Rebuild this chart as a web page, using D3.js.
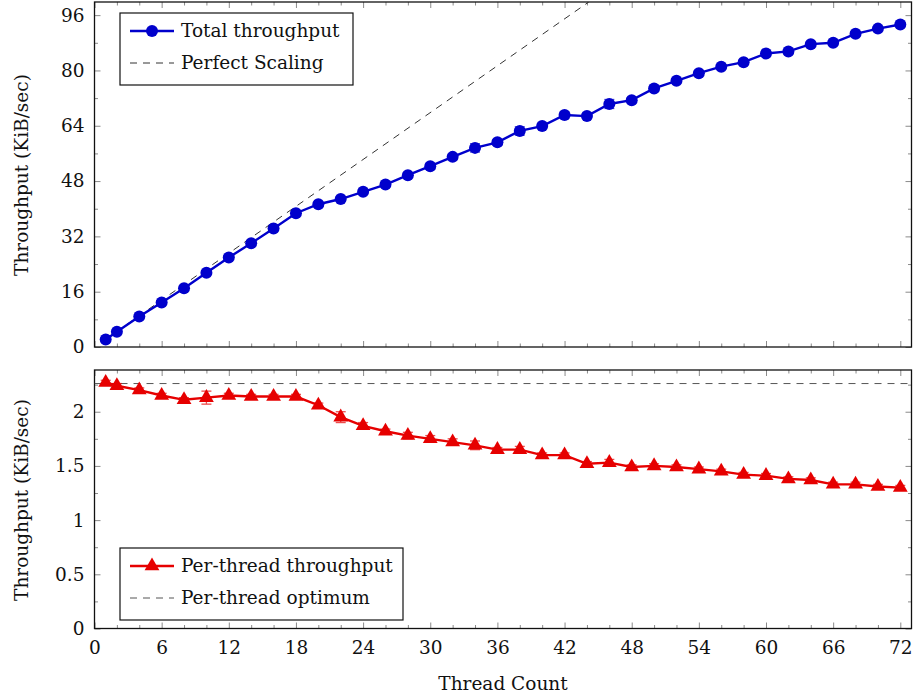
<!DOCTYPE html>
<html>
<head>
<meta charset="utf-8">
<script src="https://cdn.jsdelivr.net/npm/d3@7"></script>
<style>
  body { margin: 0; background: #fff; }
  svg { display: block; }
  svg text { font-family: "DejaVu Serif", "Liberation Serif", serif; }
  .tick line { stroke: #8a8a8a; stroke-width: 1; }
  .tick text { font-size: 18.5px; fill: #111; }
</style>
</head>
<body>
<div id="main"></div>
<script>
// thread counts
var threads = [1, 2, 4, 6, 8, 10, 12, 14, 16, 18, 20, 22, 24, 26, 28, 30, 32, 34, 36,
  38, 40, 42, 44, 46, 48, 50, 52, 54, 56, 58, 60, 62, 64, 66, 68, 70, 72];

// total throughput (KiB/sec) and its error
var total = [2.2, 4.4, 8.8, 12.9, 17.0, 21.5, 25.9, 30.0, 34.3, 38.7, 41.3, 42.8, 44.9,
  47.0, 49.7, 52.3, 55.0, 57.6, 59.2, 62.5, 63.9, 67.1, 66.8, 70.3, 71.4, 74.8, 77.0,
  79.2, 81.1, 82.4, 84.9, 85.5, 87.6, 88.0, 90.6, 92.1, 93.3];
var totalErr = [0.3, 0.3, 0.4, 0.4, 0.4, 0.5, 0.5, 0.5, 0.5, 0.5, 0.5, 0.5, 0.6,
  0.6, 0.6, 0.8, 0.8, 1.2, 0.8, 1.2, 0.8, 0.9, 0.8, 1.3, 0.7, 0.7, 0.6,
  0.6, 0.6, 0.6, 0.6, 0.6, 0.6, 0.6, 0.6, 0.6, 0.6];

// per-thread throughput (KiB/sec) and its error
var perThread = [2.27, 2.24, 2.2, 2.15, 2.11, 2.13, 2.15, 2.14, 2.14, 2.14, 2.06, 1.95, 1.87,
  1.82, 1.78, 1.75, 1.72, 1.69, 1.65, 1.65, 1.6, 1.6, 1.52, 1.53, 1.49, 1.5, 1.49,
  1.47, 1.45, 1.42, 1.41, 1.38, 1.37, 1.33, 1.33, 1.31, 1.3];
var perThreadErr = [0.02, 0.02, 0.02, 0.02, 0.02, 0.06, 0.02, 0.02, 0.02, 0.02, 0.02, 0.05, 0.03,
  0.02, 0.03, 0.03, 0.03, 0.04, 0.02, 0.03, 0.02, 0.02, 0.02, 0.03, 0.02, 0.02, 0.02,
  0.02, 0.02, 0.02, 0.02, 0.02, 0.02, 0.02, 0.02, 0.02, 0.02];

var optimum = 2.26;
var perfectX = [1, 73];

var xTicks = [0, 6, 12, 18, 24, 30, 36, 42, 48, 54, 60, 66, 72];
var topTicks = [0, 16, 32, 48, 64, 80, 96];
var botTicks = [0, 0.5, 1, 1.5, 2];

var blue = '#0000cc';
var red = '#e60000';

var width = 913, height = 696;
var left = 94.5, right = 911.5;
var fs = 18.5;

var svg = d3.select('#main').append('svg').attr('width', width).attr('height', height);

var x = d3.scaleLinear().domain([0, 73]).range([left, right]);
var yTop = d3.scaleLinear().domain([0, 99.8]).range([347, 2]);
var yBot = d3.scaleLinear().domain([0, 2.385]).range([628.5, 370]);

var xMinor = d3.range(0, 73, 2).filter(function (d) { return d % 6 !== 0; });

function drawFrame(y, majors, minors, fmt, showX) {
  var g = svg.append('g');
  var y0 = y.range()[0], y1 = y.range()[1];

  // bottom + top ticks
  g.append('g').attr('transform', 'translate(0,' + y0 + ')')
    .call(d3.axisBottom(x).tickValues(xTicks).tickSize(-6).tickPadding(12)
      .tickFormat(showX ? d3.format('d') : ''));
  g.append('g').attr('transform', 'translate(0,' + y0 + ')')
    .call(d3.axisBottom(x).tickValues(xMinor).tickSize(-3.5).tickFormat(''));
  g.append('g').attr('transform', 'translate(0,' + y1 + ')')
    .call(d3.axisTop(x).tickValues(xTicks).tickSize(-6).tickFormat(''));
  g.append('g').attr('transform', 'translate(0,' + y1 + ')')
    .call(d3.axisTop(x).tickValues(xMinor).tickSize(-3.5).tickFormat(''));

  // left + right ticks
  g.append('g').attr('transform', 'translate(' + left + ',0)')
    .call(d3.axisLeft(y).tickValues(majors).tickSize(-6).tickPadding(10).tickFormat(fmt));
  g.append('g').attr('transform', 'translate(' + left + ',0)')
    .call(d3.axisLeft(y).tickValues(minors).tickSize(-3.5).tickFormat(''));
  g.append('g').attr('transform', 'translate(' + right + ',0)')
    .call(d3.axisRight(y).tickValues(majors).tickSize(-6).tickFormat(''));
  g.append('g').attr('transform', 'translate(' + right + ',0)')
    .call(d3.axisRight(y).tickValues(minors).tickSize(-3.5).tickFormat(''));

  g.selectAll('.domain').remove();
  g.selectAll('g').attr('font-family', null).attr('font-size', null);

  g.append('rect')
    .attr('x', left).attr('y', y1)
    .attr('width', right - left).attr('height', y0 - y1)
    .attr('fill', 'none').attr('stroke', '#111').attr('stroke-width', 1.3);
}

var topMinor = d3.range(8, 99, 16);
var botMinor = [0.25, 0.75, 1.25, 1.75, 2.25];

drawFrame(yTop, topTicks, topMinor, d3.format('d'), false);
drawFrame(yBot, botTicks, botMinor, function (d) { return String(d); }, true);

// clip paths
var defs = svg.append('defs');
defs.append('clipPath').attr('id', 'clipTop').append('rect')
  .attr('x', left).attr('y', yTop.range()[1]).attr('width', right - left)
  .attr('height', yTop.range()[0] - yTop.range()[1]);
defs.append('clipPath').attr('id', 'clipBot').append('rect')
  .attr('x', left).attr('y', yBot.range()[1]).attr('width', right - left)
  .attr('height', yBot.range()[0] - yBot.range()[1]);

// ---- top panel ----
var gt = svg.append('g').attr('clip-path', 'url(#clipTop)');

gt.append('path')
  .datum(perfectX)
  .attr('d', d3.line().x(function (d) { return x(d); }).y(function (d) { return yTop(d * optimum); }))
  .attr('fill', 'none').attr('stroke', '#333').attr('stroke-width', 1)
  .attr('stroke-dasharray', '7,6');

var topData = threads.map(function (t, i) { return { x: t, y: total[i], e: totalErr[i] }; });
var botData = threads.map(function (t, i) { return { x: t, y: perThread[i], e: perThreadErr[i] }; });

function errorBars(g, data, y, color) {
  var eb = g.selectAll('.eb').data(data).enter().append('g')
    .attr('stroke', color).attr('stroke-width', 1.3).attr('opacity', 0.7);
  eb.append('line')
    .attr('x1', function (d) { return x(d.x); }).attr('x2', function (d) { return x(d.x); })
    .attr('y1', function (d) { return y(d.y - d.e); }).attr('y2', function (d) { return y(d.y + d.e); });
  [-1, 1].forEach(function (s) {
    eb.append('line')
      .attr('x1', function (d) { return x(d.x) - 5; }).attr('x2', function (d) { return x(d.x) + 5; })
      .attr('y1', function (d) { return y(d.y + s * d.e); }).attr('y2', function (d) { return y(d.y + s * d.e); });
  });
}

errorBars(gt, topData, yTop, blue);

gt.append('path')
  .datum(topData)
  .attr('d', d3.line().x(function (d) { return x(d.x); }).y(function (d) { return yTop(d.y); }))
  .attr('fill', 'none').attr('stroke', blue).attr('stroke-width', 2.4);

gt.selectAll('.dot').data(topData).enter().append('circle')
  .attr('cx', function (d) { return x(d.x); })
  .attr('cy', function (d) { return yTop(d.y); })
  .attr('r', 6).attr('fill', blue);

// ---- bottom panel ----
var gb = svg.append('g').attr('clip-path', 'url(#clipBot)');

gb.append('line')
  .attr('x1', x(0)).attr('x2', x(73))
  .attr('y1', yBot(optimum)).attr('y2', yBot(optimum))
  .attr('stroke', '#555').attr('stroke-width', 1).attr('stroke-dasharray', '7,6');

errorBars(gb, botData, yBot, red);

gb.append('path')
  .datum(botData)
  .attr('d', d3.line().x(function (d) { return x(d.x); }).y(function (d) { return yBot(d.y); }))
  .attr('fill', 'none').attr('stroke', red).attr('stroke-width', 2.4);

var tri = d3.symbol().type(d3.symbolTriangle).size(95);
svg.append('g').selectAll('.tri').data(botData).enter().append('path')
  .attr('d', tri)
  .attr('transform', function (d) { return 'translate(' + x(d.x) + ',' + yBot(d.y) + ')'; })
  .attr('fill', red);

// ---- legends ----
function legend(x0, y0, w, h, rows) {
  var g = svg.append('g');
  g.append('rect').attr('x', x0).attr('y', y0).attr('width', w).attr('height', h)
    .attr('fill', '#fff').attr('stroke', '#111').attr('stroke-width', 1.2);
  rows.forEach(function (r, i) {
    var cy = y0 + 18 + i * 32;
    var ln = g.append('line').attr('x1', x0 + 10).attr('x2', x0 + 54)
      .attr('y1', cy).attr('y2', cy);
    if (r.dash) {
      ln.attr('stroke', r.color).attr('stroke-width', 1).attr('stroke-dasharray', '7,6');
    } else {
      ln.attr('stroke', r.color).attr('stroke-width', 2.4);
    }
    if (r.marker === 'circle') {
      g.append('circle').attr('cx', x0 + 32).attr('cy', cy).attr('r', 6).attr('fill', r.color);
    } else if (r.marker === 'triangle') {
      g.append('path').attr('d', tri).attr('transform', 'translate(' + (x0 + 32) + ',' + cy + ')')
        .attr('fill', r.color);
    }
    g.append('text').attr('x', x0 + 61).attr('y', cy).attr('dy', '0.35em')
      .attr('font-size', fs).attr('fill', '#111').text(r.label);
  });
}

legend(120, 13, 233, 72, [
  { label: 'Total throughput', color: blue, marker: 'circle' },
  { label: 'Perfect Scaling', color: '#333', dash: true }
]);
legend(120, 548, 283, 72, [
  { label: 'Per-thread throughput', color: red, marker: 'triangle' },
  { label: 'Per-thread optimum', color: '#555', dash: true }
]);

// ---- axis titles ----
svg.append('text').attr('x', (left + right) / 2).attr('y', 684).attr('dy', '0.35em')
  .attr('text-anchor', 'middle').attr('font-size', fs).attr('fill', '#111').text('Thread Count');

[[yTop, 175], [yBot, 500]].forEach(function (p) {
  svg.append('text')
    .attr('transform', 'translate(22,' + p[1] + ') rotate(-90)')
    .attr('dy', '0.35em').attr('text-anchor', 'middle')
    .attr('font-size', fs).attr('fill', '#111').text('Throughput (KiB/sec)');
});
</script>
</body>
</html>
